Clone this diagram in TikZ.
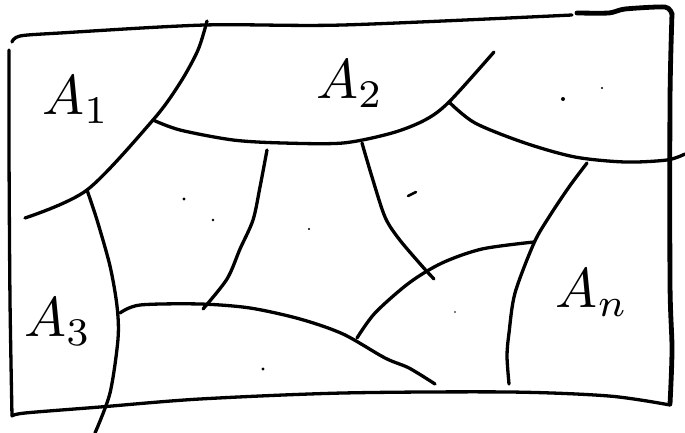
\documentclass[tikz,border=0pt]{standalone}
\usetikzlibrary{positioning}

\begin{document}
\begin{tikzpicture}[x=1pt,y=-1pt,
  pen/.style={line width=3.3pt,line cap=round,line join=round},
  thickpen/.style={line width=4.8pt,line cap=round,line join=round},
  lbl/.style={scale=5.6}]
  \useasboundingbox (0,0) rectangle (685,433);
  % outer box
  \draw[pen] plot[smooth] coordinates {(12,42) (20,36) (60,33) (205,25) (343,25) (572,15)};
  \draw[thickpen] plot[smooth,tension=0.4] coordinates {(577,13) (609,13) (625,9) (665,7) (672,14)};
  \draw[thickpen] plot[smooth] coordinates {(672,14) (670,100) (670,283) (672,349) (670,404)};
  \draw[pen] plot[smooth] coordinates {(670,405) (609,396) (509,392) (343,393) (200,399) (100,407) (25,413) (12,416)};
  \draw[pen] plot[smooth] coordinates {(12,416) (10,300) (9,150) (9,50)};
  % inner boundaries
  \draw[pen] plot[smooth] coordinates {(207,21) (198,50) (180,83) (153,120) (87,190) (25,218)};
  \draw[pen] plot[smooth] coordinates {(153,120) (180,130) (233,140) (283,143) (343,143) (392,133) (425,120) (449,102) (494,52)};
  \draw[pen] plot[smooth] coordinates {(449,102) (475,123) (525,143) (575,157) (625,162) (667,160) (685,154)};
  \draw[pen] plot[smooth] coordinates {(87,190) (97,220) (110,266) (117,306) (118,339) (110,393) (95,433)};
  \draw[pen] plot[smooth] coordinates {(267,150) (260,187) (253,220) (240,249) (227,279) (203,309)};
  \draw[pen] plot[smooth] coordinates {(120,313) (140,305) (200,304) (250,308) (300,319) (343,334) (385,358) (409,368) (435,384)};
  \draw[pen] plot[smooth] coordinates {(362,143) (372,177) (385,217) (399,239) (422,266) (434,279)};
  \draw[pen] plot[smooth] coordinates {(357,338) (375,313) (409,283) (442,263) (482,249) (534,242)};
  \draw[pen] plot[smooth] coordinates {(587,163) (569,187) (549,217) (534,243) (515,293) (509,333) (507,356) (509,384)};
  % region labels
  \node[lbl] (a1) at (76,100) {$A_1$};
  \node[lbl] (a2) at (350,84) {$A_2$};
  \node[lbl] (a3) at (58,322) {$A_3$};
  \node[lbl] (an) at (592,293) {$A_n$};
  % dots
  \fill (563,99) circle (2pt);
  \fill (602,88) circle (1.2pt);
  \draw[line width=2.5pt,line cap=round] (408,196) -- (416,192);
  \fill (184,199) circle (1.6pt);
  \fill (213,220) circle (1.3pt);
  \fill (309,229) circle (1.2pt);
  \fill (263,369) circle (1.6pt);
  \fill (455,312) circle (0.8pt);
\end{tikzpicture}
\end{document}
